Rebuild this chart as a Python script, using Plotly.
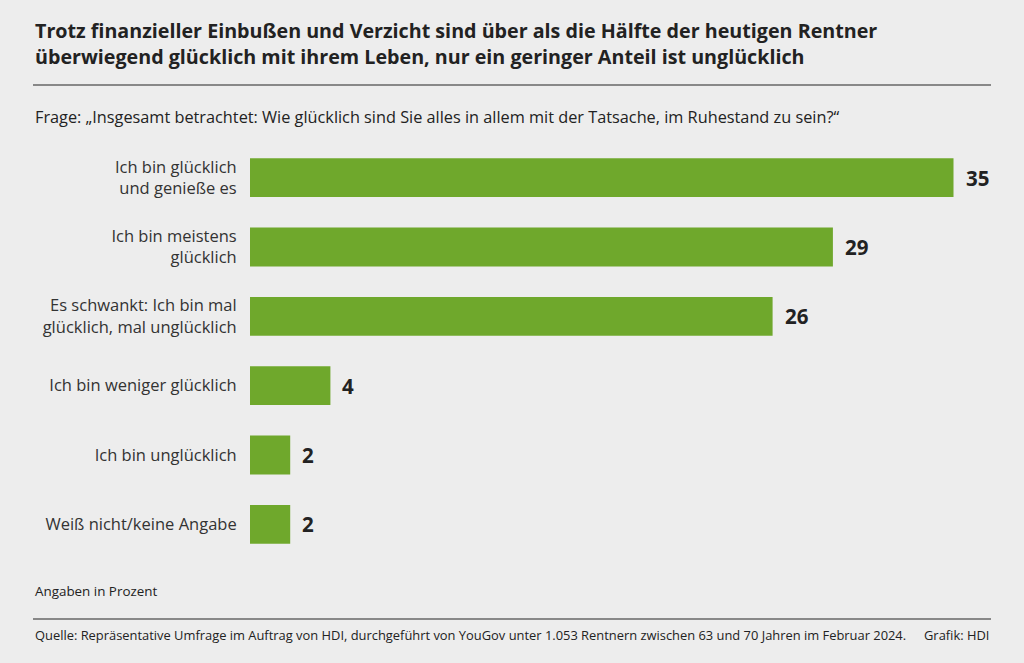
import plotly.graph_objects as go

categories = [
    "Ich bin glücklich<br>und genieße es",
    "Ich bin meistens<br>glücklich",
    "Es schwankt: Ich bin mal<br>glücklich, mal unglücklich",
    "Ich bin weniger glücklich",
    "Ich bin unglücklich",
    "Weiß nicht/keine Angabe",
]
values = [35, 29, 26, 4, 2, 2]

title_lines = [
    "Trotz finanzieller Einbußen und Verzicht sind über als die Hälfte der heutigen Rentner",
    "überwiegend glücklich mit ihrem Leben, nur ein geringer Anteil ist unglücklich",
]
subtitle = "Frage: „Insgesamt betrachtet: Wie glücklich sind Sie alles in allem mit der Tatsache, im Ruhestand zu sein?“"
unit_note = "Angaben in Prozent"
source = "Quelle: Repräsentative Umfrage im Auftrag von HDI, durchgeführt von YouGov unter 1.053 Rentnern zwischen 63 und 70 Jahren im Februar 2024."
credit = "Grafik: HDI"

W, H = 1024, 663
ML, MR, MT, MB = 250, 10, 143, 104
PW, PH = W - ML - MR, H - MT - MB
BG = "#ededed"
GREEN = "#6fa82c"
FONT = "Open Sans"
TXT = "#222222"


def px(x):
    return (x - ML) / PW


def py(y):
    return (H - MB - y) / PH


fig = go.Figure()
fig.add_trace(go.Bar(
    x=values, y=categories, orientation="h",
    marker=dict(color=GREEN, line=dict(width=0)),
    hoverinfo="skip",
))

annotations = []
for c, v in zip(categories, values):
    annotations.append(dict(
        x=v, y=c, xref="x", yref="y", text=f"<b>{v}</b>", showarrow=False,
        xanchor="left", yanchor="middle", xshift=10,
        font=dict(family=FONT, size=20.5, color=TXT),
    ))

annotations.append(dict(x=px(33), y=py(30.5), xref="paper", yref="paper", text=f"<b>{title_lines[0]}</b>",
                        showarrow=False, xanchor="left", yanchor="middle",
                        font=dict(family=FONT, size=19.7, color=TXT)))
annotations.append(dict(x=px(33), y=py(56.5), xref="paper", yref="paper", text=f"<b>{title_lines[1]}</b>",
                        showarrow=False, xanchor="left", yanchor="middle",
                        font=dict(family=FONT, size=19.7, color=TXT)))
annotations.append(dict(x=px(33), y=py(117), xref="paper", yref="paper", text=subtitle,
                        showarrow=False, xanchor="left", yanchor="middle",
                        font=dict(family=FONT, size=16.3, color=TXT)))
annotations.append(dict(x=px(33), y=py(590.5), xref="paper", yref="paper", text=unit_note,
                        showarrow=False, xanchor="left", yanchor="middle",
                        font=dict(family=FONT, size=13.4, color=TXT)))
annotations.append(dict(x=px(33), y=py(634.5), xref="paper", yref="paper", text=source,
                        showarrow=False, xanchor="left", yanchor="middle",
                        font=dict(family=FONT, size=12.9, color=TXT)))
annotations.append(dict(x=px(991), y=py(634.5), xref="paper", yref="paper", text=credit,
                        showarrow=False, xanchor="right", yanchor="middle",
                        font=dict(family=FONT, size=12.9, color=TXT)))

shapes = [
    dict(type="line", xref="paper", yref="paper", x0=px(33), x1=px(991), y0=py(85), y1=py(85),
         line=dict(color="#666666", width=1.5)),
    dict(type="line", xref="paper", yref="paper", x0=px(33), x1=px(991), y0=py(619), y1=py(619),
         line=dict(color="#666666", width=1.5)),
]

fig.update_layout(
    width=W, height=H,
    margin=dict(l=ML, r=MR, t=MT, b=MB, autoexpand=False),
    paper_bgcolor=BG, plot_bgcolor=BG,
    showlegend=False,
    bargap=0.44,
    annotations=annotations,
    shapes=shapes,
    xaxis=dict(range=[0, PW / 20.1], visible=False, fixedrange=True),
    yaxis=dict(
        autorange="reversed", showgrid=False, zeroline=False, showline=False,
        ticks="outside", ticklen=9, tickcolor="rgba(0,0,0,0)",
        tickfont=dict(family=FONT, size=16.5, color="#333333"),
        fixedrange=True,
    ),
)

fig.write_html(
    "out.html",
    config={"displayModeBar": False},
    post_script="document.body.style.margin='0';document.body.style.overflow='hidden';document.body.style.background='#ededed';",
)
